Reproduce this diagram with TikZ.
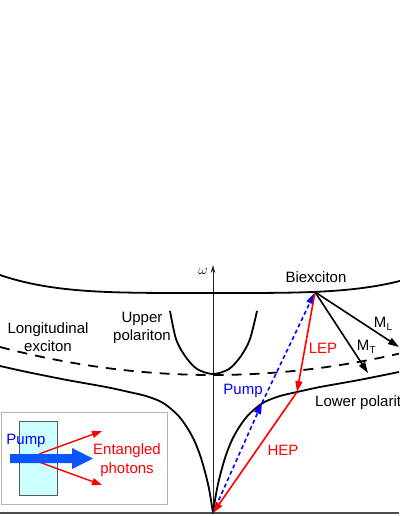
\documentclass[tikz,border=0pt]{standalone}
\usepackage{fontspec}
\setmainfont{Liberation Sans}
\usetikzlibrary{arrows.meta}
\definecolor{insetblue}{RGB}{10,85,255}
\definecolor{cellcyan}{RGB}{204,255,255}
\begin{document}
\begin{tikzpicture}[x=1pt,y=-1pt,
  curve/.style={line width=1.8pt, line join=round},
  lbl/.style={font=\fontsize{15}{18.5}\selectfont, inner sep=0pt, align=center},
  sublbl/.style={font=\fontsize{10}{12}\selectfont, inner sep=0pt},
  redarrow/.style={red, line width=1.6pt, -{Triangle[length=11pt,width=7pt]}},
  bluearrow/.style={blue, line width=1.6pt, dash pattern=on 4pt off 3pt, -{Triangle[length=11pt,width=7pt]}},
  blackarrow/.style={black, line width=1.6pt, -{Triangle[length=11pt,width=7pt]}},
  smallred/.style={red, line width=1.4pt, -{Triangle[length=10pt,width=7pt]}},
]
\useasboundingbox (0,0) rectangle (399,516);

% coordinates
\coordinate (V) at (213,513);
\coordinate (B) at (315,292);
\coordinate (P) at (262,403);
\coordinate (L) at (297,392);
\coordinate (ML) at (399,347);
\coordinate (MT) at (368,373);
\coordinate (axtop) at (213,265);
\coordinate (base0) at (0,513);
\coordinate (base1) at (399,513);

% base line and axis
\draw[line width=1.2pt, black!70] (base0) -- (base1);
\draw[line width=0.8pt, black!85, -{Stealth[length=8pt,width=4.5pt]}] (V) -- (axtop);
\node[font=\fontsize{15}{18}\selectfont, inner sep=0pt] (omega) at (203,271) {$\omega$};

% biexciton curve
\draw[curve] plot[domain=-1:0.905, samples=80] ({210+210*\x},{293-18*\x*\x*\x*\x});
% longitudinal exciton (dashed)
\draw[curve, dash pattern=on 10pt off 8pt] plot[domain=0:399, samples=60] (\x,{375-28*((\x-213)/213)*((\x-213)/213)});
% upper polariton
\draw[curve] plot[smooth] coordinates {(170,311) (176,339) (185,356) (197,369) (213,374) (229,369) (241,356) (250,339) (257,311)};
% lower polariton
\draw[curve] plot[smooth] coordinates {(0,366) (27,372) (67,380) (106,387) (129,392) (146,396) (160.5,401.5) (170,408) (179.5,417) (188,429) (194.5,441) (200,455) (204.5,470) (208,484) (210.5,497) (213,513)}
  -- plot[smooth] coordinates {(213,513) (215.5,497) (218,484) (221.5,470) (226,455) (231.5,441) (238,429) (246.5,417) (256,408) (265.5,401.5) (280,396) (297,392) (320,387) (359,380) (399,372)};

% labels
\node[lbl] (biex) at (316,277) {Biexciton};
\node[lbl] (longex) at (48,337) {Longitudinal\\exciton};
\node[lbl] (uppol) at (142,328) {Upper\\polariton};
\node[lbl, anchor=west] (lowpol) at (315,403) {Lower polariton};

% transitions
\draw[bluearrow] (V) -- (P);
\draw[bluearrow, shorten >=1pt] (P) -- (B);
\draw[redarrow] (B) -- (L);
\draw[redarrow] (L) -- (V);
\draw[blackarrow] (B) -- (ML);
\draw[blackarrow] (B) -- (MT);

\node[lbl, blue] (pumplbl) at (243,391) {Pump};
\node[lbl, red] (leplbl) at (323,348) {LEP};
\node[lbl, red] (heplbl) at (283,450) {HEP};
\node[lbl] (mllbl) at (380,322) {M};
\node[sublbl, anchor=west] (mlsub) at (mllbl.east |- 0,327) {L};
\node[lbl] (mtlbl) at (363,345) {M};
\node[sublbl, anchor=west] (mtsub) at (mtlbl.east |- 0,350) {T};

% inset
\draw[black!30, line width=1pt, fill=white] (1,412) rectangle (167,504);
\draw[fill=cellcyan, draw=black!65, line width=0.9pt] (19,421) rectangle (57,495);
\coordinate (ia0) at (39,454);
\coordinate (ia1) at (102,431);
\coordinate (ib0) at (39,462);
\coordinate (ib1) at (102,485);
\draw[smallred] (ia0) -- (ia1);
\draw[smallred] (ib0) -- (ib1);
\fill[insetblue] (10,454) -- (72,454) -- (72,448) -- (93,458.5) -- (72,469) -- (72,463) -- (10,463) -- cycle;
\node[lbl, blue] (insetpump) at (26,441) {Pump};
\node[lbl, red] (entangled) at (127,460) {Entangled\\photons};
\end{tikzpicture}
\end{document}
